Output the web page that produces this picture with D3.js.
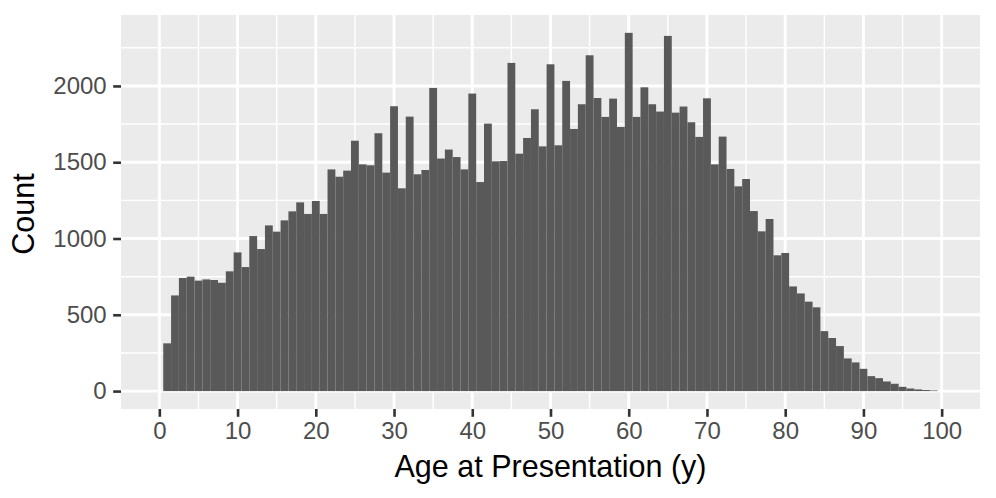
<!DOCTYPE html>
<html>
<head>
<meta charset="utf-8">
<script src="https://cdn.jsdelivr.net/npm/d3@7"></script>
<style>
  html, body { margin: 0; padding: 0; background: #fff; }
  svg { display: block; }
  text { font-family: "Liberation Sans", Arial, Helvetica, sans-serif; }
</style>
</head>
<body>
<svg id="chart" width="996" height="498"></svg>
<script>
// Age bins (bin centres, width 1 year)
const ages = d3.range(1, 100);
// Counts per bin
const counts = [
  313, 627, 741, 750, 724, 732, 728, 710, 785, 909,
  813, 1016, 931, 1086, 1045, 1119, 1178, 1237, 1161, 1246,
  1161, 1453, 1405, 1445, 1641, 1486, 1480, 1690, 1432, 1867,
  1329, 1799, 1421, 1449, 1987, 1524, 1583, 1534, 1453, 1950,
  1370, 1753, 1506, 1508, 2151, 1556, 1659, 1847, 1604, 2142,
  1611, 2033, 1718, 1880, 2201, 1921, 1797, 1917, 1731, 2348,
  1797, 1991, 1880, 1832, 2328, 1825, 1865, 1762, 1666, 1919,
  1486, 1668, 1456, 1342, 1390, 1180, 1047, 1128, 890, 905,
  686, 640, 586, 549, 393, 348, 295, 214, 188, 146,
  98, 85, 63, 48, 28, 17, 11, 7, 4
];
const xTicks = [0, 10, 20, 30, 40, 50, 60, 70, 80, 90, 100];
const xMinor = [5, 15, 25, 35, 45, 55, 65, 75, 85, 95];
const yTicks = [0, 500, 1000, 1500, 2000];
const yMinor = [250, 750, 1250, 1750, 2250];
const xTitle = "Age at Presentation (y)";
const yTitle = "Count";

const binWidth = 1;
const data = ages.map((a, i) => ({ age: a, count: counts[i] }));

const svg = d3.select("#chart");
const P = { left: 121, right: 980, top: 15, bottom: 409 };

const x = d3.scaleLinear().domain([-4.9, 104.9]).range([P.left, P.right]);
const y = d3.scaleLinear().domain([-117.4, 2465]).range([P.bottom, P.top]);

// panel background
svg.append("rect")
  .attr("x", P.left).attr("y", P.top)
  .attr("width", P.right - P.left).attr("height", P.bottom - P.top)
  .attr("fill", "#EBEBEB");

const grid = svg.append("g");
// minor grid
grid.selectAll(".xminor").data(xMinor).join("line")
  .attr("x1", d => x(d)).attr("x2", d => x(d))
  .attr("y1", P.top).attr("y2", P.bottom)
  .attr("stroke", "#fff").attr("stroke-width", 1.45);
grid.selectAll(".yminor").data(yMinor).join("line")
  .attr("y1", d => y(d)).attr("y2", d => y(d))
  .attr("x1", P.left).attr("x2", P.right)
  .attr("stroke", "#fff").attr("stroke-width", 1.45);
// major grid
grid.selectAll(".xmajor").data(xTicks).join("line")
  .attr("x1", d => x(d)).attr("x2", d => x(d))
  .attr("y1", P.top).attr("y2", P.bottom)
  .attr("stroke", "#fff").attr("stroke-width", 2.9);
grid.selectAll(".ymajor").data(yTicks).join("line")
  .attr("y1", d => y(d)).attr("y2", d => y(d))
  .attr("x1", P.left).attr("x2", P.right)
  .attr("stroke", "#fff").attr("stroke-width", 2.9);

// bars
svg.append("g").selectAll("rect").data(data).join("rect")
  .attr("x", d => x(d.age - binWidth / 2))
  .attr("width", d => x(d.age + binWidth / 2) - x(d.age - binWidth / 2))
  .attr("y", d => y(d.count))
  .attr("height", d => y(0) - y(d.count))
  .attr("fill", "#595959");

// axes
const xAxis = d3.axisBottom(x).tickValues(xTicks).tickSize(7.8).tickPadding(5.5).tickFormat(d3.format("d"));
const gx = svg.append("g").attr("transform", `translate(0,${P.bottom})`).call(xAxis);
gx.select(".domain").remove();
gx.selectAll(".tick line").attr("stroke", "#333333").attr("stroke-width", 2.6);
gx.selectAll(".tick text").attr("fill", "#4D4D4D").style("font-size", "24px")
  .style("font-family", '"Liberation Sans", Arial, sans-serif');

const yAxis = d3.axisLeft(y).tickValues(yTicks).tickSize(7.8).tickPadding(6.5).tickFormat(d3.format("d"));
const gy = svg.append("g").attr("transform", `translate(${P.left},0)`).call(yAxis);
gy.select(".domain").remove();
gy.selectAll(".tick line").attr("stroke", "#333333").attr("stroke-width", 2.6);
gy.selectAll(".tick text").attr("fill", "#4D4D4D").style("font-size", "24px")
  .style("font-family", '"Liberation Sans", Arial, sans-serif');

// titles
svg.append("text")
  .attr("x", (P.left + P.right) / 2).attr("y", 477)
  .attr("text-anchor", "middle").attr("fill", "#000")
  .style("font-size", "30.5px")
  .text(xTitle);

svg.append("text")
  .attr("transform", `translate(34,${(P.top + P.bottom) / 2 + 2}) rotate(-90)`)
  .attr("text-anchor", "middle").attr("fill", "#000")
  .style("font-size", "30.5px")
  .text(yTitle);
</script>
</body>
</html>
